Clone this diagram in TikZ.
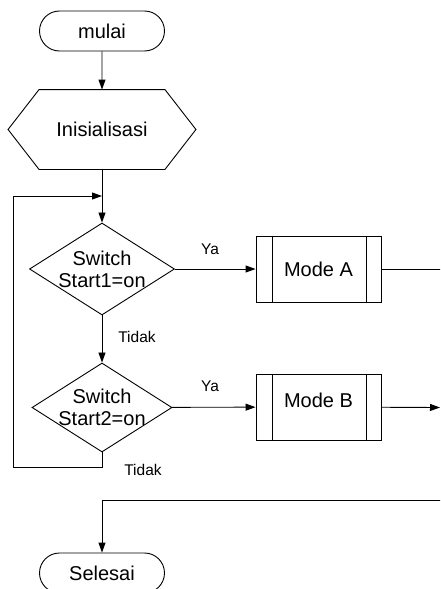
\documentclass[tikz,border=0pt]{standalone}
\usepackage{fontspec}
\setmainfont{Liberation Sans}
\usetikzlibrary{arrows.meta,shapes.misc,shapes.geometric,calc}
\begin{document}
\begin{tikzpicture}[x=1pt,y=-1pt,
  line width=0.9pt,
  arr/.style={-{Triangle[length=10pt,width=7pt]}},
  big/.style={font=\fontsize{20}{22}\selectfont},
  small/.style={font=\fontsize{15.5}{18}\selectfont},
  term/.style={draw,rounded rectangle,minimum width=125pt,minimum height=40pt,inner sep=0pt,big},
  hexbox/.style={minimum width=187pt,minimum height=79pt,inner sep=0pt,big},
  decision/.style={draw,diamond,inner sep=0pt},
  dtext/.style={align=center,big},
  proc/.style={draw,minimum width=125pt,minimum height=66pt,inner sep=0pt,big}]
\useasboundingbox (0,0) rectangle (440,589);
\clip (0,0) rectangle (440,589);

\node[term] (mulai) at (102,31) {mulai};
\node[hexbox] (init) at (102,129.5) {Inisialisasi};
\draw (init.west) -- ($(init.north west)+(31,0)$) -- ($(init.north east)+(-31,0)$)
  -- (init.east) -- ($(init.south east)+(-31,0)$) -- ($(init.south west)+(31,0)$) -- cycle;

\node[decision,minimum width=145pt,minimum height=92pt,
  label={[dtext]center:Switch\\Start1=on}] (d1) at (102,269) {};
\node[decision,minimum width=140pt,minimum height=89pt,
  label={[dtext]center:Switch\\Start2=on}] (d2) at (102,407.5) {};

\node[proc] (modeA) at (318.5,269) {Mode A};
\draw ($(modeA.north west)+(17,0)$) -- ($(modeA.south west)+(17,0)$);
\draw ($(modeA.north east)+(-15,0)$) -- ($(modeA.south east)+(-15,0)$);

\node[proc,label={[big,yshift=7pt]center:Mode B}] (modeB) at (318.5,407) {};
\draw ($(modeB.north west)+(17,0)$) -- ($(modeB.south west)+(17,0)$);
\draw ($(modeB.north east)+(-15,0)$) -- ($(modeB.south east)+(-15,0)$);

\node[term] (selesai) at (102,573) {Selesai};

\coordinate (j1) at (102,196);
\coordinate (lt) at (13,196);
\coordinate (lb) at (13,467);
\coordinate (rA) at (441,269);
\coordinate (rB) at (440,407.5);
\coordinate (rC) at (441,500);
\coordinate (jC) at (102,500);

\draw[arr] (mulai) -- (init);
\draw[arr] (init) -- (d1);
\draw[arr] (d1) -- (modeA);
\draw[arr] (d1) -- (d2);
\draw[arr] (d2) -- (modeB);
\draw[arr] (d2.south) |- (lb) -- (lt) -- (j1);
\draw (modeA) -- (rA);
\draw[arr] (modeB) -- (rB);
\draw[arr] (rC) -- (jC) -- (selesai);

\node[small] (ya1) at (210,249) {Ya};
\node[small] (ya2) at (210,386) {Ya};
\node[small] (t1) at (137,337) {Tidak};
\node[small] (t2) at (143,470) {Tidak};
\end{tikzpicture}
\end{document}
